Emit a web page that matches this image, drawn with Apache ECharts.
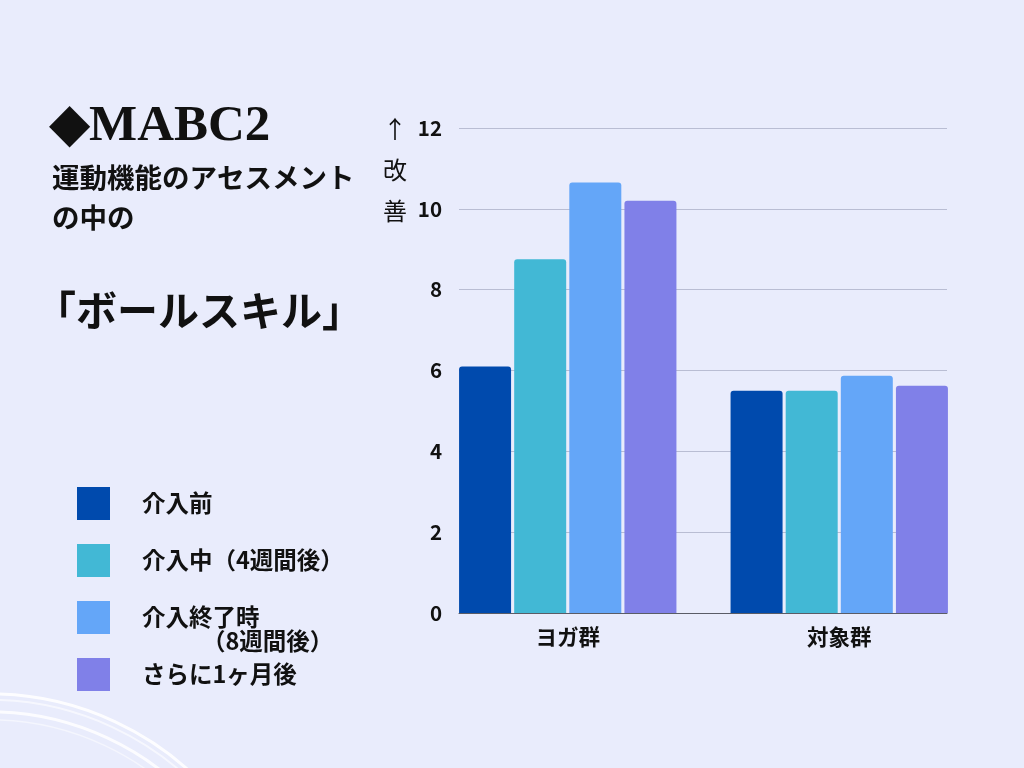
<!DOCTYPE html>
<html>
<head>
<meta charset="utf-8">
<script src="https://cdn.jsdelivr.net/npm/echarts@6/dist/echarts.min.js"></script>
<style>
  html, body { margin: 0; padding: 0; background: #e9ecfc; }
  #chart { width: 1024px; height: 768px; }
</style>
</head>
<body>
<div id="chart"></div>
<script>
"use strict";

var categories = ['ヨガ群', '対象群'];
var seriesNames = ['介入前', '介入中（4週間後）', '介入終了時（8週間後）', 'さらに1ヶ月後'];
var seriesColors = ['#004aad', '#42b8d5', '#64a6f8', '#8080e8'];
var seriesValues = [
  [6.1, 5.5],
  [8.75, 5.5],
  [10.65, 5.87],
  [10.2, 5.62]
];
var yTicks = { min: 0, max: 12, interval: 2 };

var chart = echarts.init(document.getElementById('chart'));
var jp = "'Noto Sans CJK JP', 'Noto Sans', sans-serif";

var series = seriesNames.map(function (name, i) {
  return {
    name: name,
    type: 'bar',
    xAxisIndex: 1,
    yAxisIndex: 1,
    barWidth: 52,
    barGap: '6%',
    data: seriesValues[i],
    itemStyle: { color: seriesColors[i], borderRadius: [3, 3, 0, 0] }
  };
});

// white brush arcs in the lower left corner
var arcs = [
  { r: 296, w: 3, o: 0.9 },
  { r: 290, w: 2, o: 0.6 },
  { r: 278, w: 3, o: 0.85 },
  { r: 270, w: 1.5, o: 0.5 }
].map(function (a) {
  return {
    type: 'arc',
    silent: true,
    shape: { cx: -10, cy: 990, r: a.r, startAngle: -Math.PI / 2 - 0.1, endAngle: -0.6 },
    style: { stroke: '#ffffff', lineWidth: a.w, fill: null, opacity: a.o }
  };
});

var option = {
  backgroundColor: '#e9ecfc',
  title: [
    {
      text: '◆MABC2',
      left: 50, top: 101, padding: 0,
      textStyle: { fontFamily: "'Liberation Serif', serif", fontWeight: 'bold', fontSize: 51, color: '#111' }
    },
    {
      text: '運動機能のアセスメント\nの中の',
      left: 52, top: 158, padding: 0,
      textStyle: { fontFamily: jp, fontWeight: 'bold', fontSize: 27.5, lineHeight: 40, color: '#111' }
    },
    {
      text: '「ボールスキル」',
      left: 35, top: 288, padding: 0,
      textStyle: { fontFamily: jp, fontWeight: 'bold', fontSize: 41, lineHeight: 44, color: '#111' }
    }
  ],
  legend: {
    data: seriesNames,
    orient: 'vertical',
    left: 77, top: 487, padding: 0,
    itemWidth: 33, itemHeight: 33, itemGap: 24,
    icon: 'rect',
    selectedMode: false,
    formatter: function (name) {
      return name === '介入終了時（8週間後）' ? '介入終了時' : name;
    },
    textStyle: { fontFamily: jp, fontWeight: 'bold', fontSize: 23.5, color: '#111', padding: [0, 0, 0, 27] }
  },
  grid: [
    { left: 459, right: 77, top: 128, bottom: 155 },
    { left: 432, right: 49, top: 128, bottom: 155 }
  ],
  xAxis: [
    {
      gridIndex: 0, type: 'value', min: 0, max: 1,
      axisLine: { show: true, lineStyle: { color: '#5a5c66', width: 1 } },
      axisTick: { show: false }, axisLabel: { show: false }, splitLine: { show: false }
    },
    {
      gridIndex: 1, type: 'category', data: categories,
      axisLine: { show: false }, axisTick: { show: false },
      axisLabel: { fontFamily: jp, fontWeight: 'bold', fontSize: 21.5, color: '#111', margin: 13 }
    }
  ],
  yAxis: [
    {
      gridIndex: 0, type: 'value', min: yTicks.min, max: yTicks.max, interval: yTicks.interval,
      axisLine: { show: false }, axisTick: { show: false },
      axisLabel: { fontFamily: jp, fontWeight: 'bold', fontSize: 20.5, color: '#111', margin: 17 },
      splitLine: { lineStyle: { color: '#b9bdd3', width: 1 } }
    },
    {
      gridIndex: 1, type: 'value', min: yTicks.min, max: yTicks.max, interval: yTicks.interval,
      show: false, splitLine: { show: false }
    }
  ],
  graphic: arcs.concat([
    {
      type: 'text', left: 202, top: 629, silent: true,
      style: { text: '（8週間後）', font: 'bold 23.5px ' + jp, fill: '#111' }
    },
    {
      type: 'text', left: 383, top: 108, silent: true,
      style: { text: '↑\n改\n善', font: '24px ' + jp, lineHeight: 41, align: 'center', fill: '#111' }
    }
  ]),
  series: series
};

chart.setOption(option);
</script>
</body>
</html>
